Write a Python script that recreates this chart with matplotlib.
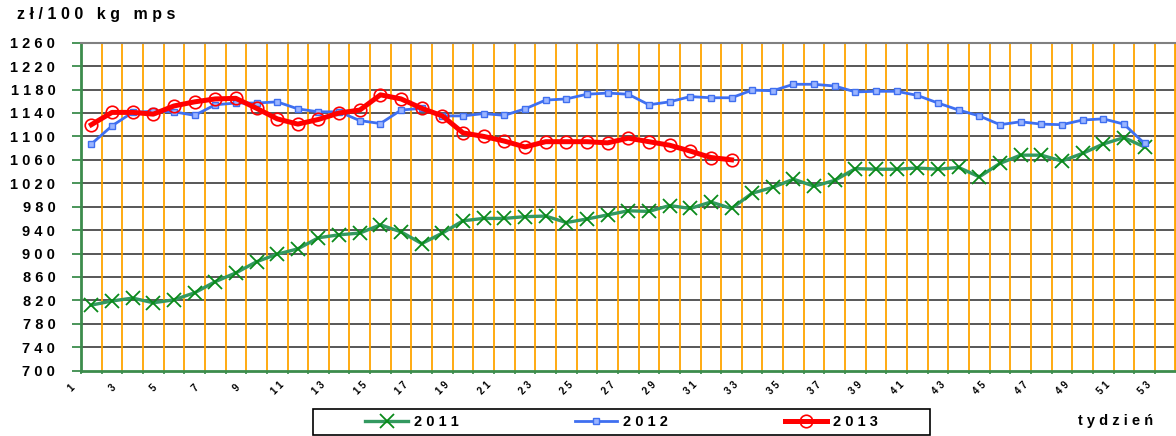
import matplotlib
matplotlib.use("Agg")
import matplotlib.pyplot as plt
from matplotlib.patches import Rectangle
from matplotlib.transforms import ScaledTranslation

plt.rcParams['font.family'] = ['Liberation Sans', 'DejaVu Sans']

weeks_axis = list(range(1, 54))

y2011 = [812, 819, 824, 816, 821, 833, 852, 867, 886, 899, 908, 927, 932, 935, 949, 937,
         917, 935, 956, 960, 960, 963, 964, 953, 959, 966, 973, 972, 982, 977, 988, 977,
         1003, 1013, 1027, 1015, 1025, 1045, 1044, 1044, 1046, 1044, 1047, 1031, 1054,
         1068, 1068, 1058, 1071, 1087, 1098, 1082]
y2012 = [1087, 1118, 1141, 1143, 1142, 1136, 1154, 1157, 1157, 1159, 1147, 1142, 1142,
         1127, 1122, 1145, 1148, 1135, 1135, 1139, 1136, 1147, 1162, 1164, 1172, 1174,
         1172, 1154, 1159, 1168, 1166, 1166, 1179, 1178, 1189, 1189, 1186, 1176, 1177,
         1177, 1170, 1157, 1145, 1135, 1120, 1125, 1121, 1120, 1128, 1130, 1121, 1088]
y2013 = [1120, 1141, 1141, 1138, 1152, 1159, 1164, 1165, 1148, 1130, 1121, 1129, 1140,
         1145, 1171, 1164, 1148, 1135, 1106, 1100, 1092, 1082, 1091, 1091, 1091, 1089,
         1097, 1091, 1085, 1075, 1064, 1060]

y_ticks = list(range(700, 1261, 40))
series_labels = ['2011', '2012', '2013']
y_title = 'z ł / 1 0 0   k g   m p s'
x_title = 'tydzień'


def spaced(s):
    return ' '.join(s)


W, H = 1176, 436
fig = plt.figure(figsize=(W / 100, H / 100), dpi=100)
ax = fig.add_axes([81 / W, 65.3 / H, 1094.5 / W, 328 / H])

green_line = '#339960'
green_mark = '#0a8a1a'
blue = '#3f6ff0'
red = '#ff0000'
axis_green = '#3c8c4c'

# grid
for v in y_ticks[1:]:
    ax.axhline(v, color='#4a4a4a', lw=1.3, zorder=1)
for k in weeks_axis:
    ax.axvline(k + 0.5, color='#ffa500', lw=1.3, zorder=1)

x11 = list(range(1, len(y2011) + 1))
x12 = list(range(1, len(y2012) + 1))
x13 = list(range(1, len(y2013) + 1))

ax.plot(x11, y2011, color=green_line, lw=2.4, marker='x', ms=9.5, mec=green_mark,
        mew=1.3, zorder=3, label=series_labels[0])
ax.plot(x12, y2012, color=blue, lw=2.0, marker='s', ms=5, mec=blue, mfc='#9bb5ff',
        mew=1.0, zorder=4, label=series_labels[1])
ax.plot(x13, y2013, color=red, lw=3.6, marker='o', ms=9, mec=red, mfc='none',
        mew=1.2, zorder=5, label=series_labels[2])

ax.set_xlim(0.5, 53.5)
ax.set_ylim(700, 1260)

ax.set_yticks(y_ticks)
ax.set_yticklabels([spaced(str(v)) for v in y_ticks], fontsize=10.5, fontweight='bold')
ax.tick_params(axis='y', length=6.5, width=1.3, color=axis_green, pad=12)

bounds = [k - 0.5 for k in weeks_axis]
ax.set_xticks(bounds)
ax.set_xticklabels([spaced(str(k)) if k % 2 == 1 else '' for k in weeks_axis],
                   fontsize=7, fontweight='bold', rotation=45, ha='center', va='center')
ax.tick_params(axis='x', length=2.5, width=1.2, color=axis_green, pad=10)
offset = ScaledTranslation(-7 / 72, 0, fig.dpi_scale_trans)
for lbl in ax.get_xticklabels():
    lbl.set_transform(lbl.get_transform() + offset)

for side in ['left', 'bottom']:
    ax.spines[side].set_color(axis_green)
    ax.spines[side].set_linewidth(2)
ax.spines['top'].set_color('#808080')
ax.spines['top'].set_linewidth(1.5)
ax.spines['right'].set_color('#ffa500')
ax.spines['right'].set_linewidth(1.3)

fig.text(17 / W, 1 - 14 / H, y_title, fontsize=11.5, fontweight='bold',
         ha='left', va='center')
fig.text(1116 / W, 1 - 421 / H, spaced(x_title), fontsize=10.5, fontweight='bold',
         ha='center', va='center')

# legend
fig.patches.append(Rectangle((313 / W, 1 - 435 / H), 617 / W, 26 / H, transform=fig.transFigure,
                             fill=False, edgecolor='black', lw=1.2))
handles, labs = ax.get_legend_handles_labels()
leg = fig.legend(handles, [spaced(l) for l in labs], loc='center',
                 bbox_to_anchor=(621.5 / W, 1 - 422 / H), ncol=3, frameon=False,
                 handlelength=2.9, handletextpad=0.4, columnspacing=8.0, numpoints=1,
                 prop={'weight': 'bold', 'size': 10.5})

fig.savefig('out.png', dpi=100)
